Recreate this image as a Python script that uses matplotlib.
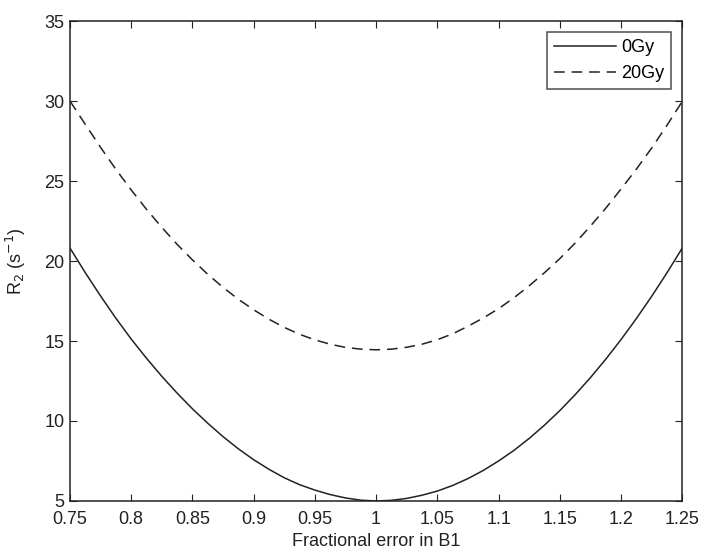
import matplotlib.pyplot as plt
import numpy as np

b1_error = [0.75, 0.7625, 0.775, 0.7875, 0.80, 0.8125, 0.825, 0.8375, 0.85, 0.8625,
            0.875, 0.8875, 0.90, 0.9125, 0.925, 0.9375, 0.95, 0.9625, 0.975, 0.9875,
            1.0, 1.0125, 1.025, 1.0375, 1.05, 1.0625, 1.075, 1.0875, 1.10, 1.1125,
            1.125, 1.1375, 1.15, 1.1625, 1.175, 1.1875, 1.20, 1.2125, 1.225, 1.2375, 1.25]
r2_0gy = [20.81, 19.27, 17.81, 16.42, 15.12, 13.92, 12.79, 11.74, 10.76, 9.86,
          9.02, 8.26, 7.58, 6.98, 6.45, 6.02, 5.68, 5.40, 5.19, 5.05,
          5.00, 5.04, 5.16, 5.36, 5.62, 5.97, 6.40, 6.91, 7.50, 8.16,
          8.91, 9.74, 10.65, 11.64, 12.71, 13.86, 15.09, 16.40, 17.79, 19.26, 20.81]
r2_20gy = [30.0, 28.54, 27.10, 25.73, 24.44, 23.23, 22.10, 21.04, 20.07, 19.17,
           18.35, 17.61, 16.95, 16.36, 15.85, 15.42, 15.07, 14.80, 14.60, 14.49,
           14.45, 14.49, 14.61, 14.80, 15.08, 15.45, 15.92, 16.44, 17.02, 17.70,
           18.45, 19.27, 20.15, 21.12, 22.18, 23.30, 24.50, 25.74, 27.06, 28.48, 29.98]

plt.rcParams['font.family'] = ['Liberation Sans', 'DejaVu Sans']

fig = plt.figure(figsize=(7.07, 5.54), dpi=100)
ax = fig.add_axes([0.099, 0.0957, 0.866, 0.8663])

ax.plot(b1_error, r2_0gy, color='#222222', lw=1.1, label='0Gy')
ax.plot(b1_error, r2_20gy, color='#222222', lw=1.1, ls=(0, (7, 4.5)), label='20Gy')

ax.set_xlim(0.75, 1.25)
ax.set_ylim(5, 35)
ax.set_xticks(np.arange(0.75, 1.251, 0.05))
ax.set_xticklabels(['0.75', '0.8', '0.85', '0.9', '0.95', '1', '1.05', '1.1', '1.15', '1.2', '1.25'])
ax.set_yticks(range(5, 36, 5))
ax.tick_params(direction='in', top=True, right=True, length=5, labelsize=13,
               colors='#222222')
ax.tick_params(axis='x', pad=7.5)
ax.tick_params(axis='y', pad=4)
for s in ax.spines.values():
    s.set_linewidth(1.1)
    s.set_color('#222222')

ax.set_xlabel('Fractional error in B1', fontsize=13, color='#222222', labelpad=3)
ax.set_ylabel('R$_2$ (s$^{-1}$)', fontsize=13, color='#222222', labelpad=12)

leg = ax.legend(loc='upper right', fontsize=13, frameon=True, fancybox=False,
                edgecolor='#222222', handlelength=3.4, borderaxespad=0.6,
                labelspacing=0.5, handletextpad=0.3)
leg.get_frame().set_linewidth(1.1)

fig.savefig('out.png', dpi=100)
